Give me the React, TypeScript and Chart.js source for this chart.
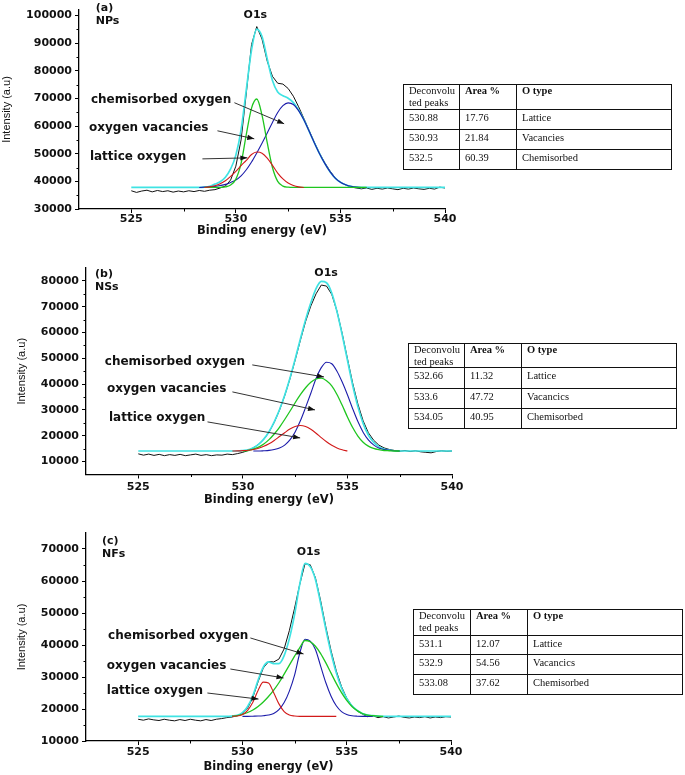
import React, { useEffect, useRef } from 'react';
import { Chart, registerables } from 'chart.js';

Chart.register(...registerables);

const N = null;

// Binding energy grid (eV) shared by all panels
const energies = [
  525, 525.25, 525.5, 525.75, 526, 526.25, 526.5, 526.75, 527, 527.25, 527.5, 527.75,
  528, 528.25, 528.5, 528.75, 529, 529.25, 529.5, 529.75, 530, 530.25, 530.5, 530.75,
  531, 531.25, 531.5, 531.75, 532, 532.25, 532.5, 532.75, 533, 533.25, 533.5, 533.75,
  534, 534.25, 534.5, 534.75, 535, 535.25, 535.5, 535.75, 536, 536.25, 536.5, 536.75,
  537, 537.25, 537.5, 537.75, 538, 538.25, 538.5, 538.75, 539, 539.25, 539.5, 539.75, 540,
];

const xTicks = [525, 530, 535, 540];
const xMinor = [527.5, 532.5, 537.5];

// ---------------- Panel (a) NPs ----------------
const rawA = [
  36600, 36000, 36500, 36800, 36200, 36700, 36300, 36600, 36100, 36500, 36200, 36600,
  36300, 36700, 36400, 36800, 37000, 37600, 38300, 40500, 45500, 55000, 72000, 89500,
  96000, 91500, 83500, 78000, 75500, 75200, 73600, 70800, 67000, 62800, 58500, 54200,
  50200, 46800, 43800, 41300, 39700, 38700, 38000, 37600, 37300, 37600, 37100, 37500,
  37200, 37600, 37300, 37000, 37500, 37200, 37600, 37300, 37100, 37500, 37200, 37900, 37600,
];
const fitA = [
  37800, 37800, 37800, 37800, 37800, 37800, 37800, 37800, 37800, 37800, 37800, 37800,
  37800, 37800, 37900, 38200, 39000, 39850, 41500, 44500, 49500, 58600, 73200, 87600,
  95100, 92400, 84300, 76500, 72300, 71000, 70100, 68500, 65800, 62300, 58200, 54000,
  50000, 46500, 43500, 41200, 39700, 38800, 38200, 37900, 37800, 37800, 37800, 37800,
  37800, 37800, 37800, 37800, 37800, 37800, 37800, 37800, 37800, 37800, 37800, 37800, 37800,
];
const latticeA = [
  N, N, N, N, N, N, N, N, N, N, N, N,
  N, N, 37800, 38000, 38400, 39100, 40200, 41800, 43600, 45700, 47600, 49700,
  50600, 50200, 48400, 45800, 43000, 40900, 39400, 38500, 38000, 37800, N, N,
  N, N, N, N, N, N, N, N, N, N, N, N,
  N, N, N, N, N, N, N, N, N, N, N, N, N,
];
const vacancyA = [
  N, N, N, N, N, N, N, N, N, N, N, N,
  N, N, 37800, 37800, 37800, 37850, 38000, 38700, 40800, 46500, 57000, 66500,
  69800, 64000, 54000, 45000, 40000, 38300, 37900, 37800, 37800, 37800, 37800, 37800,
  37800, 37800, 37800, 37800, 37800, 37800, 37800, 37800, 37800, 37800, N, N,
  N, N, N, N, N, N, N, N, N, N, N, N, N,
];
const chemA = [
  N, N, N, N, N, N, N, N, N, N, N, N,
  N, 37800, 37900, 38000, 38200, 38500, 38900, 39600, 40500, 42000, 44200, 47000,
  50300, 53800, 57500, 61300, 64900, 67400, 68400, 67800, 65600, 62300, 58200, 54000,
  50000, 46500, 43500, 41200, 39700, 38800, 38200, 37900, 37800, 37800, N, N,
  N, N, N, N, N, N, N, N, N, N, N, N, N,
];
const yTicksA = [30000, 40000, 50000, 60000, 70000, 80000, 90000, 100000];
const yMinorA = [35000, 45000, 55000, 65000, 75000, 85000, 95000];
const notesA = [
  { text: 'chemisorbed oxygen', at: [523.07, 69500], from: [529.93, 68450], to: [532.31, 60830] },
  { text: 'oxygen vacancies', at: [522.98, 59380], from: [529.12, 58290], to: [530.88, 55390] },
  { text: 'lattice oxygen', at: [523.02, 48860], from: [528.4, 48135], to: [530.55, 48500] },
];
const labelsA = [
  { text: 'O1s', at: [530.93, 100000], align: 'center' },
  { text: '(a)', at: [523.3, 102500], align: 'left' },
  { text: 'NPs', at: [523.3, 97800], align: 'left' },
];
const peaksA = ['530.88', '530.93', '532.5'];
const areasA = ['17.76', '21.84', '60.39'];
const typesA = ['Lattice', 'Vacancies', 'Chemisorbed'];

// ---------------- Panel (b) NSs ----------------
const rawB = [
  13000, 12500, 12900, 12400, 12800, 12300, 12700, 12400, 12800, 12300, 12600, 12900,
  12400, 12700, 12300, 12600, 12500, 12900, 12700, 13100, 13600, 14300, 15300, 16700,
  18600, 21400, 25200, 29900, 35500, 42000, 49300, 57000, 64300, 70300, 75000, 78400,
  78000, 74800, 68300, 59600, 49900, 40400, 32300, 25800, 21200, 18300, 16400, 15300,
  14700, 14300, 14000, 14300, 13900, 14200, 13800, 13600, 13400, 13900, 14200, 14000, 14100,
];
const fitB = [
  14100, 14100, 14100, 14100, 14100, 14100, 14100, 14100, 14100, 14100, 14100, 14100,
  14100, 14100, 14100, 14100, 14100, 14100, 14100, 14100, 14300, 14600, 15400, 16700,
  18700, 21550, 25400, 30100, 35700, 42300, 49700, 57500, 65000, 71500, 77000, 79800,
  79300, 75300, 68100, 59100, 49300, 39600, 31300, 24800, 20300, 17500, 15800, 14900,
  14500, 14200, 14100, 14100, 14100, 14100, 14100, 14100, 14100, 14100, 14100, 14100, 14100,
];
const latticeB = [
  N, N, N, N, N, N, N, N, N, N, N, N,
  N, N, N, N, N, N, 14100, 14150, 14250, 14400, 14700, 15200,
  15900, 16900, 18200, 19700, 21200, 22600, 23600, 24000, 23600, 22500, 21000, 19300,
  17700, 16300, 15300, 14600, 14100, N, N, N, N, N, N, N,
  N, N, N, N, N, N, N, N, N, N, N, N, N,
];
const vacancyB = [
  N, N, N, N, N, N, N, N, N, N, N, N,
  N, N, N, N, N, N, N, N, 14100, 14300, 14800, 15600,
  16800, 18500, 20700, 23300, 26300, 29500, 32800, 35900, 38600, 40700, 42000, 42300,
  41300, 39300, 36000, 31800, 27300, 23200, 19900, 17500, 16000, 15100, 14600, 14300,
  14200, 14100, 14100, N, N, N, N, N, N, N, N, N, N,
];
const chemB = [
  N, N, N, N, N, N, N, N, N, N, N, N,
  N, N, N, N, N, N, N, N, N, N, 14100, 14100,
  14200, 14350, 14700, 15300, 16400, 18400, 21500, 25800, 31000, 36500, 42200, 46400,
  48500, 47900, 45000, 40800, 35900, 30500, 25500, 21400, 18400, 16500, 15300, 14700,
  14400, 14200, 14100, N, N, N, N, N, N, N, N, N, N,
];
const yTicksB = [10000, 20000, 30000, 40000, 50000, 60000, 70000, 80000];
const yMinorB = [15000, 25000, 35000, 45000, 55000, 65000, 75000];
const notesB = [
  { text: 'chemisorbed oxygen', at: [523.4, 48600], from: [530.45, 47460], to: [533.88, 42800] },
  { text: 'oxygen vacancies', at: [523.5, 38160], from: [529.5, 37000], to: [533.45, 30030] },
  { text: 'lattice oxygen', at: [523.6, 26930], from: [528.31, 25380], to: [532.74, 19180] },
];
const labelsB = [
  { text: 'O1s', at: [533.98, 83000], align: 'center' },
  { text: '(b)', at: [522.93, 82700], align: 'left' },
  { text: 'NSs', at: [522.93, 77600], align: 'left' },
];
const peaksB = ['532.66', '533.6', '534.05'];
const areasB = ['11.32', '47.72', '40.95'];
const typesB = ['Lattice', 'Vacancics', 'Chemisorbed'];

// ---------------- Panel (c) NFs ----------------
const rawC = [
  16800, 16500, 16900, 16600, 16400, 16800, 16500, 16300, 16700, 16400, 16800, 16500,
  16300, 16700, 16400, 16800, 17000, 17300, 17500, 17900, 18600, 20300, 23600, 28500,
  32800, 34800, 34700, 35600, 38800, 44500, 51500, 59000, 65400, 65100, 61000, 53800,
  45600, 38200, 31900, 27000, 23400, 21000, 19400, 18400, 17600, 17900, 17300, 17600,
  17200, 17500, 17800, 17400, 17200, 17500, 17300, 17600, 17200, 17500, 17300, 17600, 17500,
];
const fitC = [
  17700, 17700, 17700, 17700, 17700, 17700, 17700, 17700, 17700, 17700, 17700, 17700,
  17700, 17700, 17700, 17700, 17700, 17700, 17800, 18000, 18850, 20800, 24150, 29000,
  33100, 34700, 34200, 34200, 36700, 42000, 49500, 59000, 65500, 64500, 60500, 53000,
  44900, 37500, 31300, 26600, 23300, 21000, 19550, 18600, 18100, 17900, 17750, 17700,
  17700, 17700, 17700, 17700, 17700, 17700, 17700, 17700, 17700, 17700, 17700, 17700, 17700,
];
const latticeC = [
  N, N, N, N, N, N, N, N, N, N, N, N,
  N, N, N, N, N, N, 17750, 17800, 18250, 19600, 22100, 25800,
  28400, 28100, 25100, 21600, 19200, 18100, 17800, 17700, 17700, 17700, 17700, 17700,
  17700, 17700, 17700, N, N, N, N, N, N, N, N, N,
  N, N, N, N, N, N, N, N, N, N, N, N, N,
];
const vacancyC = [
  N, N, N, N, N, N, N, N, N, N, N, N,
  N, N, N, N, N, N, 17750, 17900, 18300, 18900, 19700, 20800,
  22200, 23900, 25900, 28200, 30900, 33700, 36500, 39200, 41400, 41000, 39600, 37300,
  34400, 31200, 28000, 25100, 22700, 20800, 19500, 18600, 18100, 17900, 17750, 17700,
  N, N, N, N, N, N, N, N, N, N, N, N, N,
];
const chemC = [
  N, N, N, N, N, N, N, N, N, N, N, N,
  N, N, N, N, N, N, N, N, 17700, 17700, 17750, 17800,
  17900, 18100, 18600, 19800, 22000, 25600, 30600, 37500, 41800, 41200, 38600, 33400,
  28200, 24000, 21000, 19200, 18300, 17900, 17750, 17700, 17700, 17700, N, N,
  N, N, N, N, N, N, N, N, N, N, N, N, N,
];
const yTicksC = [10000, 20000, 30000, 40000, 50000, 60000, 70000];
const yMinorC = [15000, 25000, 35000, 45000, 55000, 65000];
const notesC = [
  { text: 'chemisorbed oxygen', at: [523.56, 42800], from: [530.38, 42200], to: [532.93, 37200] },
  { text: 'oxygen vacancies', at: [523.5, 33400], from: [529.42, 32500], to: [531.97, 29700] },
  { text: 'lattice oxygen', at: [523.5, 25600], from: [528.32, 25000], to: [530.77, 23100] },
];
const labelsC = [
  { text: 'O1s', at: [533.17, 69100], align: 'center' },
  { text: '(c)', at: [523.27, 72500], align: 'left' },
  { text: 'NFs', at: [523.27, 68400], align: 'left' },
];
const peaksC = ['531.1', '532.9', '533.08'];
const areasC = ['12.07', '54.56', '37.62'];
const typesC = ['Lattice', 'Vacancics', 'Chemisorbed'];

// ---------------- styling ----------------
const RAW_COLOR = '#111111';
const FIT_COLOR = '#3fe3e3';
const RED = '#d21a1a';
const GREEN = '#1fc61f';
const BLUE = '#1c1caa';
const TICK_FONT = { family: 'DejaVu Sans', size: 11, weight: 'bold' };
const XTITLE_FONT = { family: 'DejaVu Sans', size: 11.5, weight: 'bold' };
const YTITLE_FONT = { family: 'Liberation Sans', size: 11, weight: 'normal' };

type Panel = {
  raw: (number | null)[]; fit: (number | null)[]; lattice: (number | null)[];
  vacancy: (number | null)[]; chem: (number | null)[];
  yMin: number; yMax: number; yTicks: number[]; yMinor: number[];
  notes: any[]; labels: any[];
  box: { left: number; top: number; w: number; h: number; padTop: number; yW: number; xH: number; xTickPad: number; xTitlePad: number; yTitlePad: number };
};

const panels: Panel[] = [
  { raw: rawA, fit: fitA, lattice: latticeA, vacancy: vacancyA, chem: chemA, yMin: 30000, yMax: 102000,
    yTicks: yTicksA, yMinor: yMinorA, notes: notesA, labels: labelsA,
    box: { left: 0, top: 0, w: 460, h: 245, padTop: 10, yW: 79, xH: 36, xTickPad: 0, xTitlePad: 7.5, yTitlePad: 0.5 } },
  { raw: rawB, fit: fitB, lattice: latticeB, vacancy: vacancyB, chem: chemB, yMin: 5000, yMax: 85000,
    yTicks: yTicksB, yMinor: yMinorB, notes: notesB, labels: labelsB,
    box: { left: 0, top: 250, w: 467, h: 260, padTop: 18, yW: 86, xH: 35.5, xTickPad: 2, xTitlePad: 2.8, yTitlePad: 15 } },
  { raw: rawC, fit: fitC, lattice: latticeC, vacancy: vacancyC, chem: chemC, yMin: 10000, yMax: 75000,
    yTicks: yTicksC, yMinor: yMinorC, notes: notesC, labels: labelsC,
    box: { left: 0, top: 515, w: 466, h: 260, padTop: 18, yW: 86, xH: 34, xTickPad: 0.5, xTitlePad: 0.8, yTitlePad: 15 } },
];

const tables = [
  { left: 403, top: 84, colW: [56, 57, 155], rowH: [25, 20, 20, 20], peaks: peaksA, areas: areasA, types: typesA },
  { left: 408, top: 343, colW: [56, 57, 155], rowH: [24, 21, 20, 20], peaks: peaksB, areas: areasB, types: typesB },
  { left: 413, top: 609, colW: [57, 57, 155], rowH: [26, 19, 20, 20], peaks: peaksC, areas: areasC, types: typesC },
];

function toPoints(vals: (number | null)[]) {
  return energies.map((e, i) => ({ x: e, y: vals[i] }));
}

function makeOverlay(p: Panel) {
  return {
    id: 'overlay',
    afterDraw(chart: any) {
      const { ctx, chartArea } = chart;
      const xs = chart.scales.x;
      const ys = chart.scales.y;
      ctx.save();
      ctx.strokeStyle = '#000';
      ctx.lineWidth = 1;
      // minor ticks
      for (const v of xMinor) {
        const px = Math.round(xs.getPixelForValue(v)) + 0.5;
        ctx.beginPath();
        ctx.moveTo(px, chartArea.bottom);
        ctx.lineTo(px, chartArea.bottom + 2.5);
        ctx.stroke();
      }
      for (const v of p.yMinor) {
        const py = Math.round(ys.getPixelForValue(v)) + 0.5;
        ctx.beginPath();
        ctx.moveTo(chartArea.left, py);
        ctx.lineTo(chartArea.left - 2.5, py);
        ctx.stroke();
      }
      // annotations with arrows
      ctx.fillStyle = '#111';
      ctx.font = 'bold 12px "DejaVu Sans"';
      ctx.textBaseline = 'middle';
      ctx.textAlign = 'left';
      for (const n of p.notes) {
        ctx.fillText(n.text, xs.getPixelForValue(n.at[0]), ys.getPixelForValue(n.at[1]));
        const x1 = xs.getPixelForValue(n.from[0]);
        const y1 = ys.getPixelForValue(n.from[1]);
        const x2 = xs.getPixelForValue(n.to[0]);
        const y2 = ys.getPixelForValue(n.to[1]);
        ctx.strokeStyle = '#333';
        ctx.lineWidth = 1;
        ctx.beginPath();
        ctx.moveTo(x1, y1);
        ctx.lineTo(x2, y2);
        ctx.stroke();
        const a = Math.atan2(y2 - y1, x2 - x1);
        const L = 7, W = 2.6;
        ctx.beginPath();
        ctx.moveTo(x2, y2);
        ctx.lineTo(x2 - L * Math.cos(a) + W * Math.sin(a), y2 - L * Math.sin(a) - W * Math.cos(a));
        ctx.lineTo(x2 - L * Math.cos(a) - W * Math.sin(a), y2 - L * Math.sin(a) + W * Math.cos(a));
        ctx.closePath();
        ctx.fill();
      }
      // panel labels
      ctx.font = 'bold 11px "DejaVu Sans"';
      for (const l of p.labels) {
        ctx.textAlign = l.align;
        ctx.fillText(l.text, xs.getPixelForValue(l.at[0]), ys.getPixelForValue(l.at[1]));
      }
      ctx.restore();
    },
  };
}

function makeConfig(p: Panel): any {
  const b = p.box;
  const line = (vals: (number | null)[], color: string, width: number, smooth: boolean) => ({
    data: toPoints(vals),
    borderColor: color,
    backgroundColor: color,
    borderWidth: width,
    pointRadius: 0,
    fill: false,
    spanGaps: false,
    tension: smooth ? 0.4 : 0,
    cubicInterpolationMode: smooth ? 'monotone' : 'default',
  });
  return {
    type: 'line',
    data: {
      datasets: [
        { label: 'lattice oxygen', ...line(p.lattice, RED, 1.1, true) },
        { label: 'oxygen vacancies', ...line(p.vacancy, GREEN, 1.3, true) },
        { label: 'chemisorbed oxygen', ...line(p.chem, BLUE, 1.1, true) },
        { label: 'fit', ...line(p.fit, FIT_COLOR, 1.7, true) },
        { label: 'raw', ...line(p.raw, RAW_COLOR, 1, false) },
      ],
    },
    options: {
      responsive: false,
      maintainAspectRatio: false,
      animation: false,
      events: [],
      layout: { padding: { left: 0, top: b.padTop, right: 15, bottom: 0 } },
      plugins: { legend: { display: false }, tooltip: { enabled: false } },
      scales: {
        x: {
          type: 'linear',
          min: 522.5,
          max: 540,
          afterBuildTicks: (s: any) => { s.ticks = xTicks.map((v) => ({ value: v })); },
          afterFit: (s: any) => { s.height = b.xH; },
          ticks: { font: TICK_FONT, color: '#111', padding: b.xTickPad, maxRotation: 0, autoSkip: false, callback: (v: any) => String(v) },
          grid: { display: true, drawOnChartArea: false, drawTicks: true, tickLength: 4, color: '#000', lineWidth: 1 },
          border: { display: true, color: '#000', width: 1.3 },
          title: { display: true, text: 'Binding energy (eV)', font: XTITLE_FONT, color: '#111', padding: { top: 0, bottom: b.xTitlePad } },
        },
        y: {
          type: 'linear',
          min: p.yMin,
          max: p.yMax,
          afterBuildTicks: (s: any) => { s.ticks = p.yTicks.map((v) => ({ value: v })); },
          afterFit: (s: any) => { s.width = b.yW; },
          ticks: { font: TICK_FONT, color: '#111', padding: 3, autoSkip: false, callback: (v: any) => String(v) },
          grid: { display: true, drawOnChartArea: false, drawTicks: true, tickLength: 4, color: '#000', lineWidth: 1 },
          border: { display: true, color: '#000', width: 1.3 },
          title: { display: true, text: 'Intensity (a.u)', font: YTITLE_FONT, color: '#111', padding: { top: b.yTitlePad, bottom: 0 } },
        },
      },
    },
    plugins: [makeOverlay(p)],
  };
}

function PanelChart({ p }: { p: Panel }) {
  const ref = useRef<HTMLCanvasElement | null>(null);
  useEffect(() => {
    if (!ref.current) return;
    const chart = new Chart(ref.current, makeConfig(p));
    return () => chart.destroy();
  }, [p]);
  const b = p.box;
  return (
    <canvas
      ref={ref}
      width={b.w}
      height={b.h}
      style={{ position: 'absolute', left: b.left, top: b.top, width: b.w, height: b.h }}
    />
  );
}

function DataTable({ t }: { t: any }) {
  const cells: any[] = [];
  const header = [['Deconvolu', 'ted peaks'], ['Area %'], ['O type']];
  const rows = t.peaks.map((pk: string, i: number) => [[pk], [t.areas[i]], [t.types[i]]]);
  const all = [header, ...rows];
  let y = 0;
  all.forEach((row: any[], ri: number) => {
    let x = 0;
    row.forEach((lines: string[], ci: number) => {
      cells.push(
        <div
          key={`${ri}-${ci}`}
          style={{
            position: 'absolute',
            left: x,
            top: y,
            width: t.colW[ci] + 1,
            height: t.rowH[ri] + 1,
            boxSizing: 'border-box',
            border: '1px solid #111',
            padding: ri === 0 ? '0 0 0 5px' : '1px 0 0 5px',
            fontFamily: '"Liberation Serif", "Times New Roman", serif',
            fontSize: 10.5,
            lineHeight: ri === 0 ? '12px' : '13px',
            fontWeight: ri === 0 && ci > 0 ? 'bold' : 'normal',
            color: '#111',
            whiteSpace: 'nowrap',
            overflow: 'hidden',
          }}
        >
          {lines.map((s, k) => (
            <div key={k}>{s}</div>
          ))}
        </div>
      );
      x += t.colW[ci];
    });
    y += t.rowH[ri];
  });
  return <div style={{ position: 'absolute', left: t.left, top: t.top }}>{cells}</div>;
}

export default function App() {
  return (
    <div style={{ position: 'absolute', left: 0, top: 0, width: 685, height: 775, background: '#fff', overflow: 'hidden' }}>
      {panels.map((p, i) => (
        <PanelChart key={i} p={p} />
      ))}
      {tables.map((t, i) => (
        <DataTable key={i} t={t} />
      ))}
    </div>
  );
}
